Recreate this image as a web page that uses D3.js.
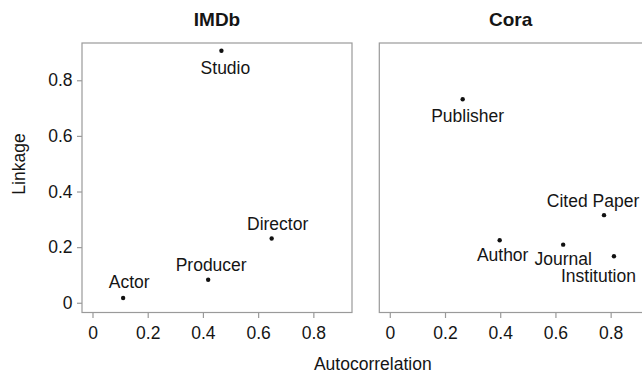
<!DOCTYPE html>
<html>
<head>
<meta charset="utf-8">
<script src="https://cdn.jsdelivr.net/npm/d3@7"></script>
<style>
  html, body { margin: 0; padding: 0; background: #fff; }
  svg { display: block; font-family: "Liberation Sans", Arial, Helvetica, sans-serif; }
</style>
</head>
<body>
<svg id="chart" width="642" height="374"></svg>
<script>
// Relational attributes: autocorrelation (x) vs linkage (y)
const imdbNames = ["Actor", "Producer", "Director", "Studio"];
const imdbAutocorrelation = [0.111, 0.419, 0.649, 0.467];
const imdbLinkage = [0.017, 0.083, 0.231, 0.906];

const coraNames = ["Publisher", "Author", "Journal", "Cited Paper", "Institution"];
const coraAutocorrelation = [0.264, 0.398, 0.628, 0.776, 0.812];
const coraLinkage = [0.732, 0.225, 0.209, 0.315, 0.167];

const panelTitles = ["IMDb", "Cora"];
const xTickValues = [0, 0.2, 0.4, 0.6, 0.8];
const yTickValues = [0, 0.2, 0.4, 0.6, 0.8];
const xTitle = "Autocorrelation";
const yTitle = "Linkage";

// Label placement relative to each point: [dx, baseline dy] in pixels
const labelOffset = {
  "Actor": [6, -10.5], "Producer": [3, -8.5], "Director": [6, -8.5], "Studio": [4, 23],
  "Publisher": [5, 23], "Author": [3, 20.5], "Journal": [0, 20], "Cited Paper": [-11, -8.5],
  "Institution": [-15.5, 25.5]
};

const W = 642, H = 374;
const fontSize = 17.5;
const textColor = "#151515";
const boxColor = "#9a9a9a";

const panels = [
  { title: panelTitles[0], left: 82, names: imdbNames, xs: imdbAutocorrelation, ys: imdbLinkage, yAxis: true },
  { title: panelTitles[1], left: 379.3, names: coraNames, xs: coraAutocorrelation, ys: coraLinkage, yAxis: false }
];
const panelW = 270, plotTop = 43, plotBottom = 312.5;

const svg = d3.select("#chart");

const y = d3.scaleLinear().domain([-0.035, 0.934]).range([plotBottom, plotTop]);

panels.forEach(p => {
  const x = d3.scaleLinear().domain([-0.038, 0.94]).range([p.left, p.left + panelW]);
  const g = svg.append("g");

  // frame
  g.append("rect")
    .attr("x", p.left).attr("y", plotTop)
    .attr("width", panelW).attr("height", plotBottom - plotTop)
    .attr("fill", "none").attr("stroke", boxColor).attr("stroke-width", 1.2);

  // title centred over the visible part of the panel
  const visRight = Math.min(p.left + panelW, W);
  g.append("text")
    .attr("x", (p.left + visRight) / 2).attr("y", 26)
    .attr("text-anchor", "middle")
    .attr("font-size", 19).attr("font-weight", "bold")
    .attr("fill", textColor)
    .text(p.title);

  // x axis
  const xa = g.append("g")
    .attr("transform", `translate(0,${plotBottom + 0.5})`)
    .call(d3.axisBottom(x).tickValues(xTickValues).tickFormat(d3.format("~g")).tickSize(5).tickPadding(9));
  xa.select(".domain").remove();
  xa.selectAll(".tick line").attr("stroke", boxColor).attr("stroke-width", 1.2);
  xa.selectAll(".tick text").attr("font-size", fontSize).attr("fill", textColor)
    .attr("font-family", "Liberation Sans, Arial, sans-serif");

  if (p.yAxis) {
    const ya = g.append("g")
      .attr("transform", `translate(${p.left},0)`)
      .call(d3.axisLeft(y).tickValues(yTickValues).tickFormat(d3.format("~g")).tickSize(5).tickPadding(4.5));
    ya.select(".domain").remove();
    ya.selectAll(".tick line").attr("stroke", boxColor).attr("stroke-width", 1.2);
    ya.selectAll(".tick text").attr("font-size", fontSize).attr("fill", textColor)
      .attr("font-family", "Liberation Sans, Arial, sans-serif");
  }

  const pts = p.names.map((n, i) => ({ name: n, ax: p.xs[i], ly: p.ys[i] }));

  g.selectAll("circle.pt").data(pts).enter().append("circle")
    .attr("class", "pt")
    .attr("cx", d => x(d.ax)).attr("cy", d => y(d.ly))
    .attr("r", 2.2).attr("fill", "#111");

  g.selectAll("text.lbl").data(pts).enter().append("text")
    .attr("class", "lbl")
    .attr("x", d => x(d.ax) + labelOffset[d.name][0])
    .attr("y", d => y(d.ly) + labelOffset[d.name][1])
    .attr("text-anchor", "middle")
    .attr("font-size", fontSize).attr("fill", textColor)
    .text(d => d.name);
});

// shared axis titles
svg.append("text")
  .attr("x", 372.8).attr("y", 369.5)
  .attr("text-anchor", "middle")
  .attr("font-size", fontSize).attr("fill", textColor)
  .text(xTitle);

svg.append("text")
  .attr("transform", "translate(24.5,164) rotate(-90)")
  .attr("text-anchor", "middle")
  .attr("font-size", fontSize).attr("fill", textColor)
  .text(yTitle);
</script>
</body>
</html>
